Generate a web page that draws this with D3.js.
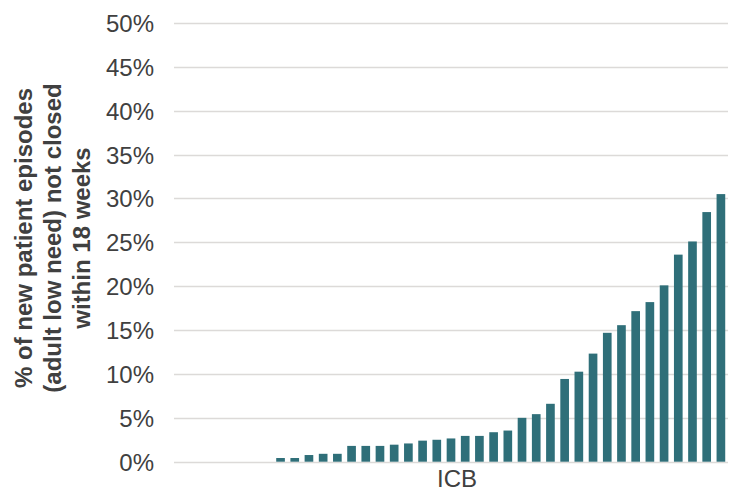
<!DOCTYPE html>
<html>
<head>
<meta charset="utf-8">
<script src="https://cdn.jsdelivr.net/npm/d3@7"></script>
<style>
  body { margin: 0; background: #fff; }
  svg { display: block; font-family: "Liberation Sans", Arial, sans-serif; }
</style>
</head>
<body>
<div id="chart"></div>
<script>
// one bar per ICB, sorted ascending; first 7 have no visible bar
var icbs = d3.range(1, 40).map(function(i) { return "ICB " + i; });
var notClosed = [0, 0, 0, 0, 0, 0, 0,
  0.42, 0.42, 0.76, 0.9, 0.9, 1.8, 1.8, 1.8, 1.94, 2.08,
  2.4, 2.5, 2.65, 2.94, 2.94, 3.36, 3.55, 5.0, 5.42, 6.6,
  9.43, 10.26, 12.32, 14.69, 15.56, 17.16, 18.19, 20.1, 23.6, 25.1,
  28.45, 30.5];
var yTicks = [0, 5, 10, 15, 20, 25, 30, 35, 40, 45, 50];
var yTitle = ["% of new patient episodes", "(adult low need) not closed", "within 18 weeks"];
var xTitle = "ICB";

var width = 729, height = 492;
var margin = {left: 174, right: 1, top: 23, bottom: 30};

var data = icbs.map(function(d, i) { return {icb: d, value: notClosed[i]}; });

var x = d3.scaleBand()
  .domain(icbs)
  .range([margin.left, width - margin.right])
  .paddingInner(0.39)
  .paddingOuter(0.195);

var y = d3.scaleLinear()
  .domain([0, 50])
  .range([height - margin.bottom - 0.3, margin.top]);

var svg = d3.select("#chart").append("svg")
  .attr("width", width)
  .attr("height", height);

// gridlines
svg.append("g")
  .selectAll("line")
  .data(yTicks)
  .enter().append("line")
    .attr("x1", margin.left)
    .attr("x2", width - margin.right)
    .attr("y1", function(d) { return Math.round(y(d)) + 0.5; })
    .attr("y2", function(d) { return Math.round(y(d)) + 0.5; })
    .attr("stroke", "#dcdad8")
    .attr("stroke-width", 1.6);

// y axis labels
var yAxis = svg.append("g")
  .attr("transform", "translate(" + (margin.left - 20) + ",0)")
  .call(d3.axisLeft(y).tickValues(yTicks).tickSize(0).tickFormat(function(d) { return d + "%"; }));
yAxis.select(".domain").remove();
yAxis.selectAll("text")
  .attr("fill", "#404040")
  .attr("font-size", "24px")
  .attr("dy", "0.35em")
  .attr("x", 0);

// bars
svg.append("g")
  .selectAll("rect")
  .data(data)
  .enter().append("rect")
    .attr("x", function(d) { return x(d.icb); })
    .attr("width", x.bandwidth())
    .attr("y", function(d) { return y(d.value); })
    .attr("height", function(d) { return y(0) - y(d.value); })
    .attr("fill", "#2f6f79");

// x title
svg.append("text")
  .attr("x", 457)
  .attr("y", 487)
  .attr("text-anchor", "middle")
  .attr("font-size", "24px")
  .attr("fill", "#404040")
  .text(xTitle);

// y title, three lines rotated
var yt = svg.append("text")
  .attr("transform", "translate(24,238) rotate(-90)")
  .attr("text-anchor", "middle")
  .attr("font-size", "24px")
  .attr("font-weight", "bold")
  .attr("fill", "#404040");
yt.selectAll("tspan")
  .data(yTitle)
  .enter().append("tspan")
    .attr("x", 0)
    .attr("dy", function(d, i) { return i == 0 ? "0.35em" : "29px"; })
    .text(function(d) { return d; });
</script>
</body>
</html>
